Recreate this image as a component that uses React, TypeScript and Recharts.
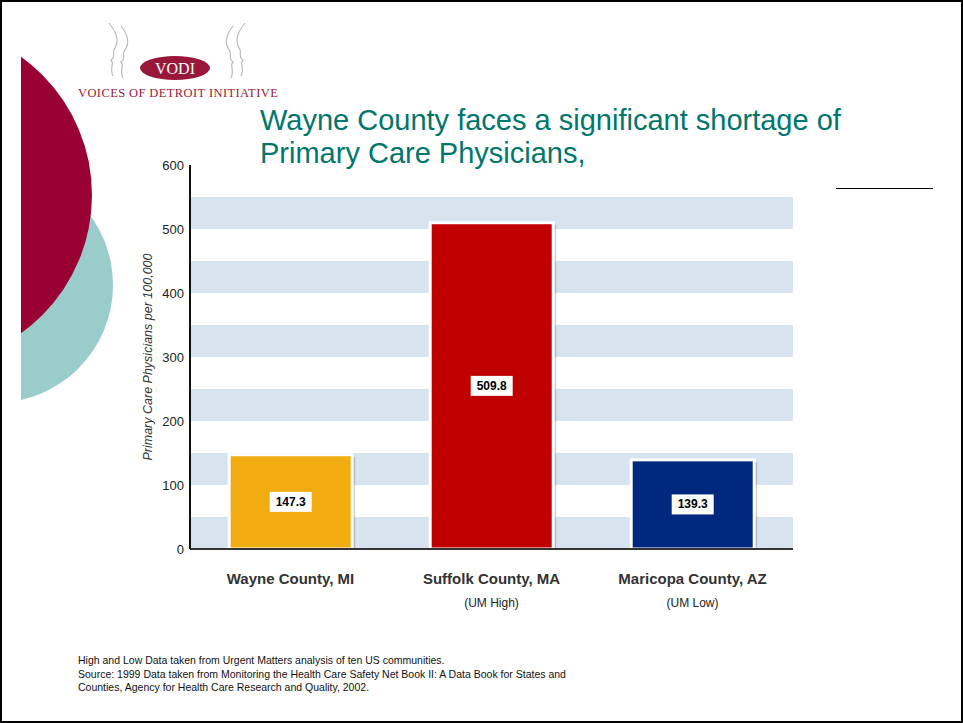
import React from "react"
import { BarChart, Bar, XAxis, YAxis, Cell, LabelList, ReferenceArea } from "recharts"

// values
const categories = ["Wayne County, MI", "Suffolk County, MA", "Maricopa County, AZ"]
const subLabels = ["", "(UM High)", "(UM Low)"]
const physicians = [147.3, 509.8, 139.3]
const barColors = ["#F0AC10", "#C00000", "#00287F"]
const yTicks = [0, 100, 200, 300, 400, 500, 600]
const bandStarts = [0, 100, 200, 300, 400, 500]
const bandSize = 50

const data = categories.map((name, i) => ({ name, sub: subLabels[i], value: physicians[i] }))

const FONT = "'Liberation Sans', Arial, sans-serif"

const CategoryTick = ({ x, y, payload, index }: any) => {
  return (
    <g>
      <text x={x} y={y + 27} textAnchor="middle" fontFamily={FONT} fontSize={15} fontWeight="bold" fill="#333">
        {payload.value}
      </text>
      {subLabels[index] ? (
        <text x={x} y={y + 50} textAnchor="middle" fontFamily={FONT} fontSize={12} fill="#222">
          {subLabels[index]}
        </text>
      ) : null}
    </g>
  )
}

const BarShape = (props: any) => {
  const { x, y, width, height, fill } = props
  return (
    <g>
      <rect x={x + 3} y={y + 2} width={width} height={height - 2} fill="#000" opacity={0.18} />
      <rect x={x} y={y} width={width} height={height} fill={fill} stroke="#fff" strokeWidth={3} />
    </g>
  )
}

const ValueBox = (props: any) => {
  const { x, y, width, height, value } = props
  const cx = x + width / 2
  const cy = y + height / 2
  return (
    <g>
      <rect x={cx - 21} y={cy - 10} width={42} height={20} fill="#fff" />
      <text x={cx} y={cy + 4} textAnchor="middle" fontFamily={FONT} fontSize={12} fontWeight="bold" fill="#000">
        {value.toFixed(1)}
      </text>
    </g>
  )
}

export default function App() {
  return (
    <div style={{ position: "fixed", left: 0, top: 0, width: 963, height: 723, background: "#fff", overflow: "hidden", fontFamily: FONT }}>
      {/* decorative circles */}
      <div style={{ position: "absolute", left: 21, top: 0, width: 200, height: 723, overflow: "hidden" }}>
        <div style={{ position: "absolute", left: -144, top: 167, width: 236, height: 236, borderRadius: "50%", background: "#9ACCCC" }} />
        <div style={{ position: "absolute", left: -269, top: 25, width: 340, height: 340, borderRadius: "50%", background: "#990033" }} />
      </div>

      {/* logo */}
      <svg style={{ position: "absolute", left: 95, top: 18 }} width={170} height={70}>
        <path d="M14 5 C22 15 24 22 20 30 C16 34 22 38 16 42 C20 46 14 50 18 58" stroke="#bbb" fill="none" strokeWidth={1.2} />
        <path d="M26 8 C34 18 34 26 30 32 C26 36 32 40 26 44 C30 48 24 52 28 60" stroke="#bbb" fill="none" strokeWidth={1.2} />
        <path d="M150 5 C142 15 140 22 144 30 C148 34 142 38 148 42 C144 46 150 50 146 58" stroke="#bbb" fill="none" strokeWidth={1.2} />
        <path d="M138 8 C130 18 130 26 134 32 C138 36 132 40 138 44 C134 48 140 52 136 60" stroke="#bbb" fill="none" strokeWidth={1.2} />
        <ellipse cx={80} cy={50} rx={35} ry={12} fill="#99183A" />
        <text x={80} y={56} textAnchor="middle" fontFamily="'Liberation Serif', serif" fontSize={16} fill="#fff">VODI</text>
      </svg>
      <div style={{ position: "absolute", left: 78, top: 86, fontFamily: "'Liberation Serif', serif", fontSize: 12.5, color: "#99183A", letterSpacing: 0.4, transform: "scaleY(1.05)" }}>
        VOICES OF DETROIT INITIATIVE
      </div>

      {/* title */}
      <div style={{ position: "absolute", left: 260, top: 104, fontSize: 29, lineHeight: "33px", color: "#00766C" }}>
        Wayne County faces a significant shortage of
        <br />
        Primary Care Physicians,
      </div>
      <div style={{ position: "absolute", left: 836, top: 188, width: 97, height: 0, borderTop: "1.5px solid #000" }} />

      <div style={{ position: "absolute", left: 0, top: 0 }}>
        <BarChart
          width={963}
          height={723}
          data={data}
          margin={{ top: 165, right: 170, bottom: 114, left: 130 }}
          barCategoryGap="19.5%"
        >
          {bandStarts.map((b) => (
            <ReferenceArea key={b} y1={b} y2={b + bandSize} fill="#D7E3EE" fillOpacity={1} stroke="none" ifOverflow="hidden" />
          ))}
          <XAxis
            dataKey="name"
            tick={<CategoryTick />}
            tickLine={false}
            axisLine={{ stroke: "#333", strokeWidth: 2 }}
            height={60}
            interval={0}
          />
          <YAxis
            domain={[0, 600]}
            ticks={yTicks}
            width={60}
            tickLine={false}
            tickSize={4}
            tickMargin={2}
            axisLine={{ stroke: "#111", strokeWidth: 2 }}
            tick={{ fontFamily: FONT, fontSize: 13, fill: "#222" }}
            label={{
              content: ({ viewBox }: any) => (
                <text
                  x={viewBox.x + 18}
                  y={viewBox.y + viewBox.height / 2}
                  transform={`rotate(-90 ${viewBox.x + 18} ${viewBox.y + viewBox.height / 2})`}
                  textAnchor="middle"
                  dominantBaseline="central"
                  fontFamily={FONT}
                  fontSize={12.5}
                  fontStyle="italic"
                  fill="#333"
                >
                  Primary Care Physicians per 100,000
                </text>
              ),
            }}
          />
          <Bar dataKey="value" shape={<BarShape />} isAnimationActive={false}>
            {data.map((d, i) => (
              <Cell key={d.name} fill={barColors[i]} />
            ))}
            <LabelList dataKey="value" content={<ValueBox />} />
          </Bar>
        </BarChart>
      </div>

      {/* footnote */}
      <div style={{ position: "absolute", left: 78, top: 654, fontSize: 10.5, lineHeight: "13.5px", color: "#111" }}>
        High and Low Data taken from Urgent Matters analysis of ten US communities.
        <br />
        Source: 1999 Data taken from Monitoring the Health Care Safety Net Book II: A Data Book for States and
        <br />
        Counties, Agency for Health Care Research and Quality, 2002.
      </div>

      {/* slide frame */}
      <div style={{ position: "absolute", left: 0, top: 0, width: 963, height: 723, boxSizing: "border-box", border: "2px solid #000", pointerEvents: "none" }} />
    </div>
  )
}
